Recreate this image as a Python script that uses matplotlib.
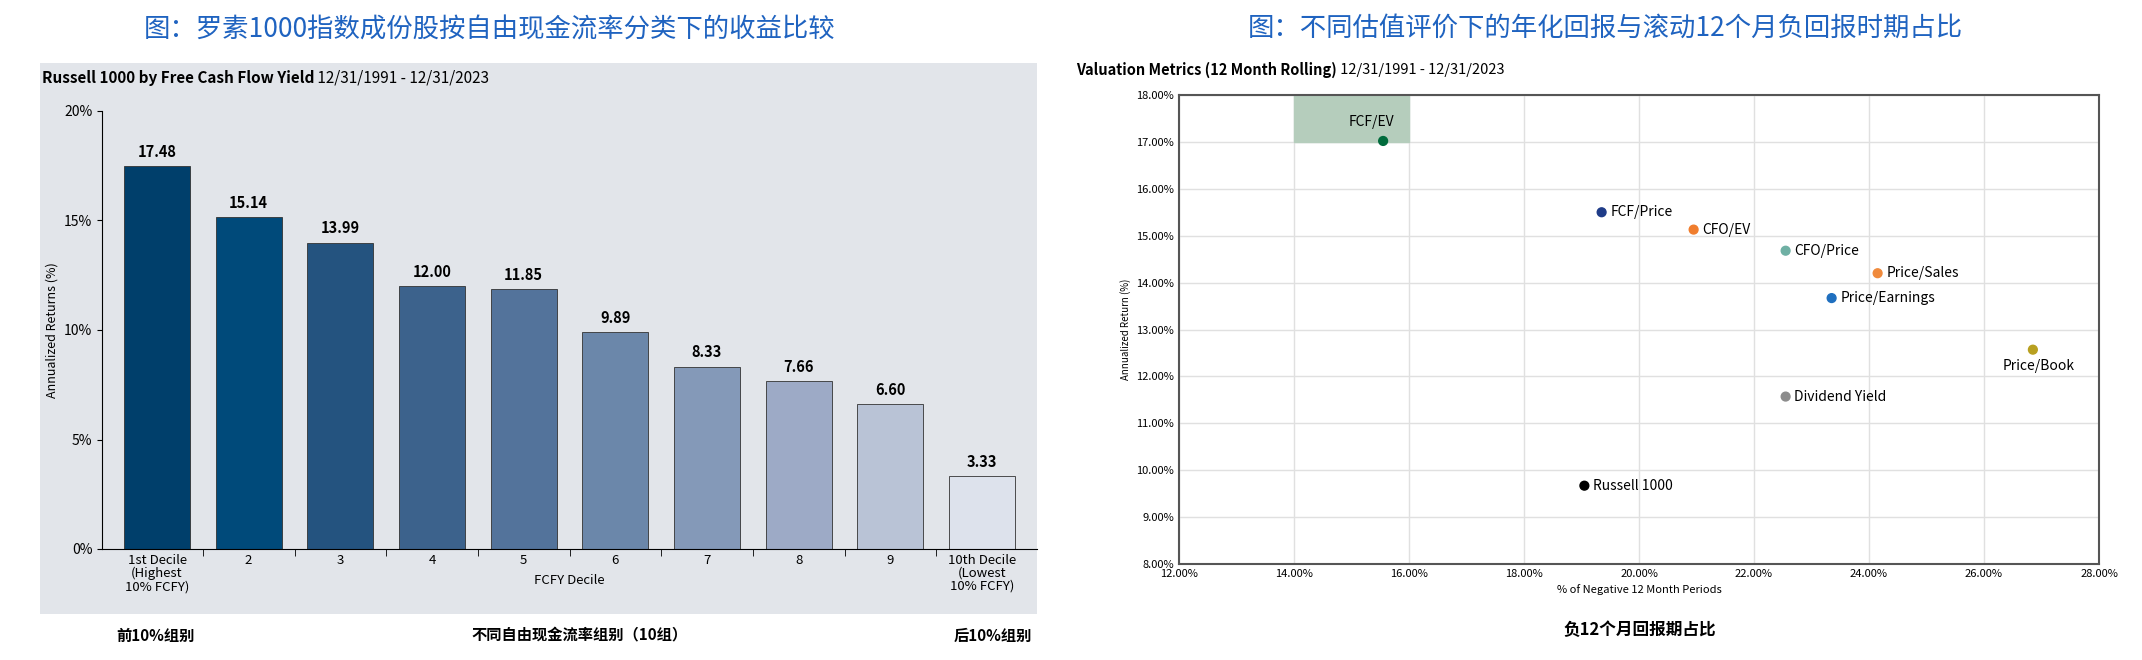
import matplotlib.pyplot as plt
from matplotlib.patches import Rectangle

plt.rcParams['font.family'] = ['Noto Sans CJK SC', 'DejaVu Sans']

deciles = ['1st Decile\n(Highest\n10% FCFY)', '2', '3', '4', '5', '6', '7', '8', '9', '10th Decile\n(Lowest\n10% FCFY)']
returns = [17.48, 15.14, 13.99, 12.00, 11.85, 9.89, 8.33, 7.66, 6.60, 3.33]
bar_colors = ['#003f6b', '#004a7a', '#24537f', '#3c628c', '#53739b', '#6b87aa', '#8499b8', '#9daac6', '#b9c3d6', '#dde2ec']

metrics = ['FCF/EV', 'FCF/Price', 'CFO/EV', 'CFO/Price', 'Price/Sales', 'Price/Earnings', 'Price/Book', 'Dividend Yield', 'Russell 1000']
neg_pct = [15.55, 19.35, 20.95, 22.55, 24.15, 23.35, 26.85, 22.55, 19.05]
ann_ret = [17.02, 15.5, 15.13, 14.68, 14.2, 13.67, 12.57, 11.57, 9.67]
pt_colors = ['#006b3c', '#1f3c88', '#f07d2d', '#6fb0a4', '#f08a3c', '#1f6fbf', '#b8a020', '#8c8c8c', '#000000']

W, H = 2142, 660
fig = plt.figure(figsize=(W / 100, H / 100), dpi=100)
title_c = '#1f63c0'

# left panel
fig.text(490 / W, 1 - 30 / H, '图：罗素1000指数成份股按自由现金流率分类下的收益比较', color=title_c, fontsize=19, ha='center', va='center')
bg = fig.add_axes([40 / W, 1 - 614 / H, 997 / W, 551 / H], zorder=-1)
bg.set_facecolor('#e2e5ea')
bg.set_xticks([])
bg.set_yticks([])
for s in bg.spines.values():
    s.set_visible(False)
t1 = fig.text(42 / W, 1 - 78 / H, 'Russell 1000 by Free Cash Flow Yield', fontsize=11, fontweight='bold', va='center')
bg.annotate(' 12/31/1991 - 12/31/2023', xy=(1, 0.5), xycoords=t1, fontsize=11, va='center', annotation_clip=False)
ax1 = fig.add_axes([102 / W, 1 - 549 / H, 935 / W, 438 / H])
ax1.set_facecolor('none')
x = range(len(returns))
ax1.bar(x, returns, width=0.72, color=bar_colors, edgecolor='#333333', linewidth=0.6)
for i, v in enumerate(returns):
    ax1.text(i, v + 0.3, f'{v:.2f}', ha='center', va='bottom', fontsize=10.5, fontweight='bold')
ax1.set_xlim(-0.6, 9.6)
ax1.set_ylim(0, 20)
ax1.set_yticks([0, 5, 10, 15, 20])
ax1.set_yticklabels(['0%', '5%', '10%', '15%', '20%'], fontsize=10)
ax1.set_xticks(list(x))
ax1.set_xticklabels(deciles, fontsize=9.5, linespacing=1.0)
ax1.set_xticks([i + 0.5 for i in range(9)], minor=True)
ax1.tick_params(axis='x', which='major', length=0)
ax1.tick_params(axis='x', which='minor', length=5)
ax1.set_ylabel('Annualized Returns (%)', fontsize=9)
ax1.set_xlabel('FCFY Decile', fontsize=9.5, labelpad=-14)
for s in ['top', 'right']:
    ax1.spines[s].set_visible(False)
fig.text(155 / W, 1 - 636 / H, '前10%组别', fontsize=11, fontweight='bold', ha='center', va='center')
fig.text(580 / W, 1 - 634 / H, '不同自由现金流率组别（10组）', fontsize=11, fontweight='bold', ha='center', va='center')
fig.text(993 / W, 1 - 636 / H, '后10%组别', fontsize=11, fontweight='bold', ha='center', va='center')

# right panel
fig.text(1605 / W, 1 - 28 / H, '图：不同估值评价下的年化回报与滚动12个月负回报时期占比', color=title_c, fontsize=19, ha='center', va='center')
t2 = fig.text(1076 / W, 1 - 70 / H, 'Valuation Metrics (12 Month Rolling)', fontsize=10.5, fontweight='bold', va='center')
bg.annotate(' 12/31/1991 - 12/31/2023', xy=(1, 0.5), xycoords=t2, fontsize=10.5, va='center', annotation_clip=False)
ax2 = fig.add_axes([1179 / W, 1 - 564 / H, 920 / W, 469 / H])
ax2.add_patch(Rectangle((14, 17), 2, 1, color='#b5cdbc', zorder=1))
ax2.scatter(neg_pct, ann_ret, c=pt_colors, s=40, zorder=3)
for m, xv, yv in zip(metrics, neg_pct, ann_ret):
    if m == 'FCF/EV':
        ax2.text(xv - 0.2, yv + 0.25, m, fontsize=10, ha='center', va='bottom')
    elif m == 'Price/Book':
        ax2.text(xv + 0.1, yv - 0.2, m, fontsize=10, ha='center', va='top')
    else:
        ax2.text(xv + 0.15, yv, m, fontsize=10, ha='left', va='center')
ax2.set_xlim(12, 28)
ax2.set_ylim(8, 18)
ax2.set_xticks(range(12, 29, 2))
ax2.set_xticklabels([f'{v:.2f}%' for v in range(12, 29, 2)], fontsize=8)
ax2.set_yticks(range(8, 19))
ax2.set_yticklabels([f'{v:.2f}%' for v in range(8, 19)], fontsize=8)
ax2.grid(True, color='#e0e0e0', linewidth=1)
ax2.set_axisbelow(True)
ax2.tick_params(length=0)
for s in ax2.spines.values():
    s.set_color('#555555')
    s.set_linewidth(1.5)
ax2.set_xlabel('% of Negative 12 Month Periods', fontsize=8)
ax2.set_ylabel('Annualized Return (%)', fontsize=7)
fig.text(1640 / W, 1 - 630 / H, '负12个月回报期占比', fontsize=12, fontweight='bold', ha='center', va='center')

fig.savefig('out.png', dpi=100)
